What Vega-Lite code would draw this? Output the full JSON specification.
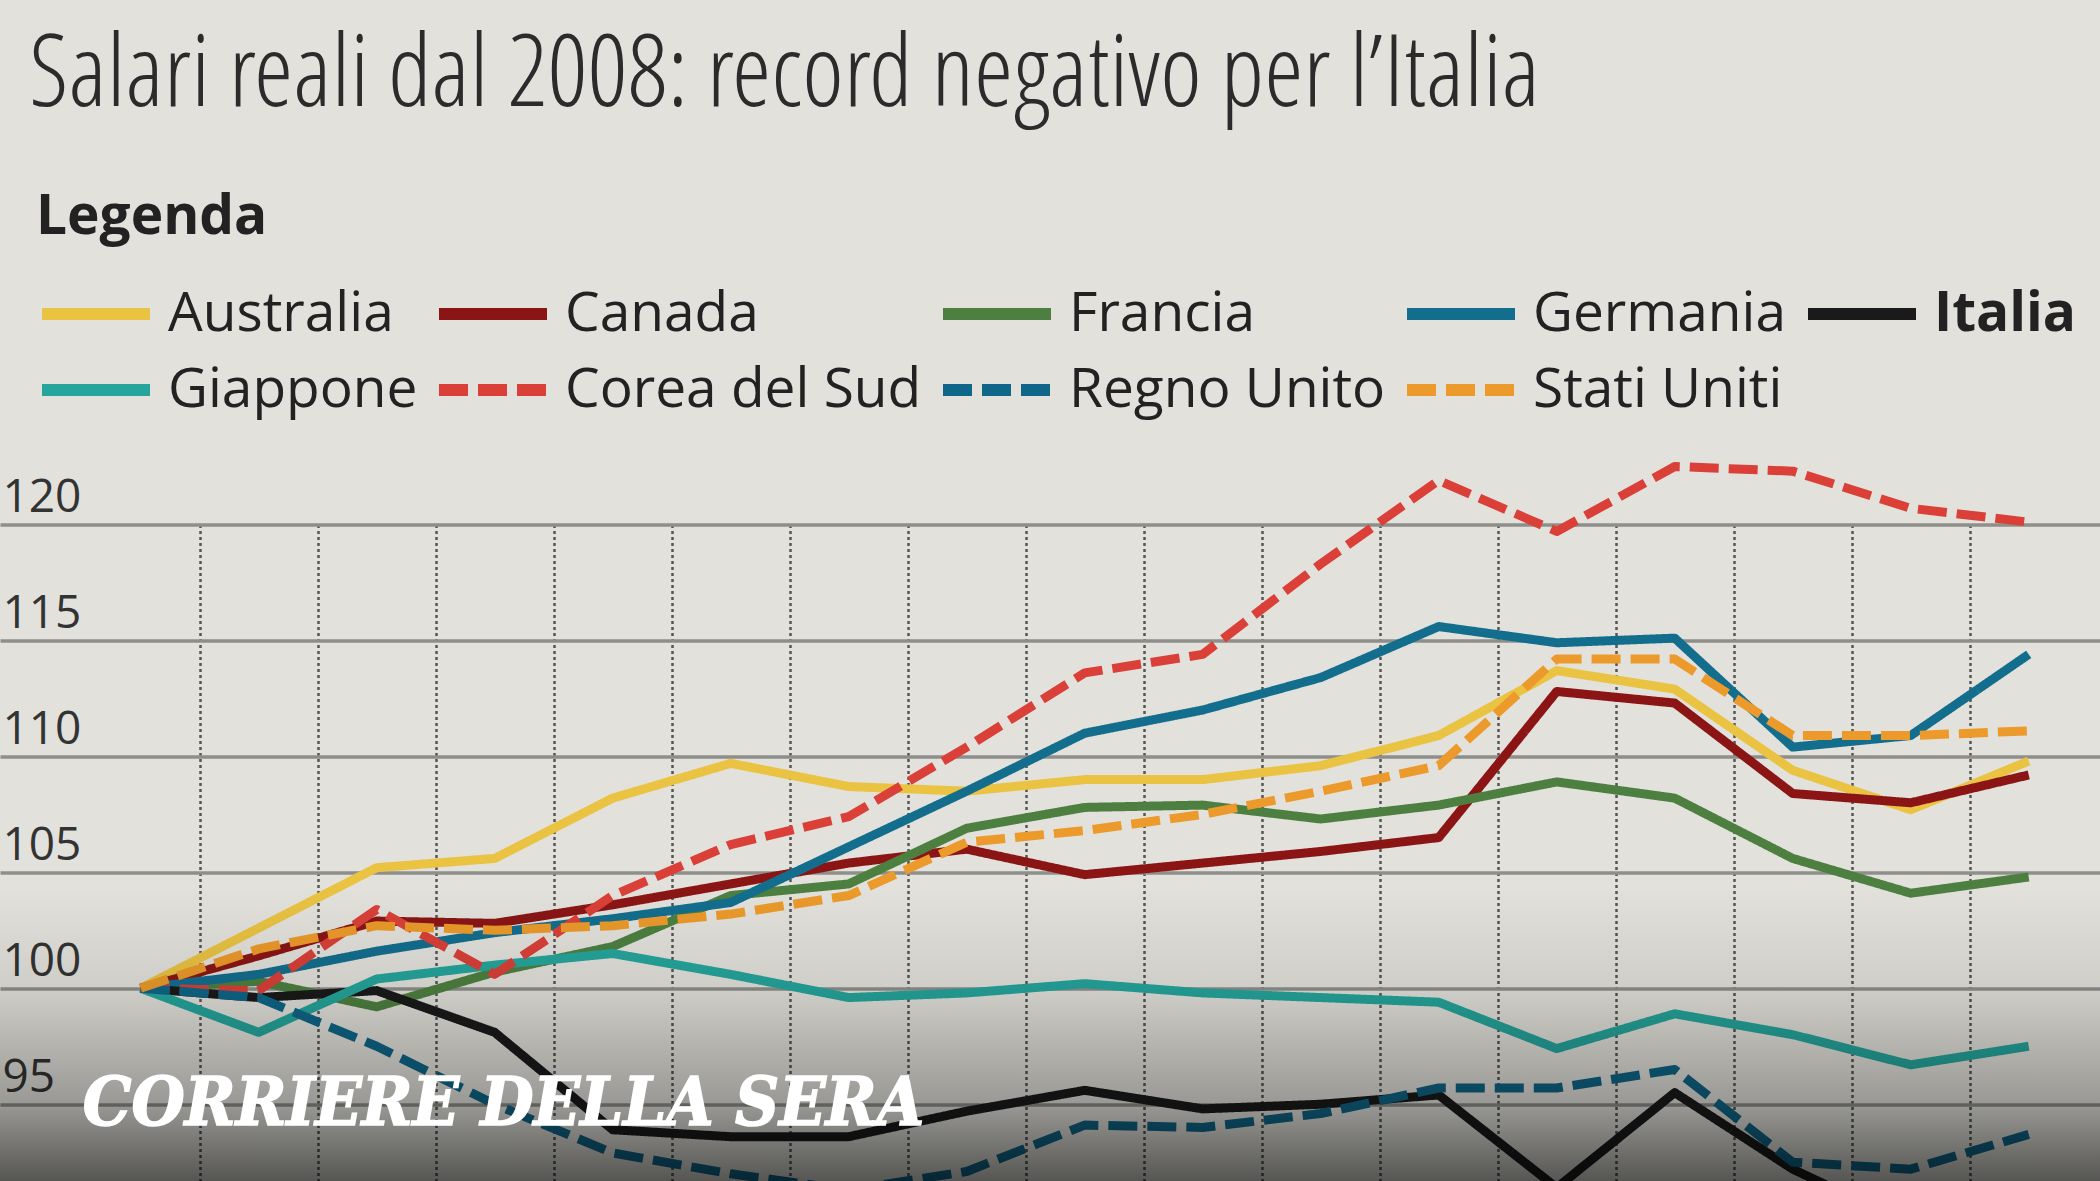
{
  "$schema": "https://vega.github.io/schema/vega-lite/v6.json",
  "autosize": {"type": "none"},
  "width": 2100,
  "height": 656.5,
  "padding": {"left": 0, "top": 524.5, "right": 0, "bottom": 0},
  "background": "#e2e1db",
  "title": {
    "text": "Salari reali dal 2008: record negativo per l’Italia",
    "anchor": "start",
    "frame": "group",
    "dx": 29,
    "offset": 64
  },
  "layer": [
    {
      "data": {
        "values": [
          {"Paese": "Australia", "Anno": 2008, "Valore": 100},
          {"Paese": "Australia", "Anno": 2009, "Valore": 102.6},
          {"Paese": "Australia", "Anno": 2010, "Valore": 105.2},
          {"Paese": "Australia", "Anno": 2011, "Valore": 105.6},
          {"Paese": "Australia", "Anno": 2012, "Valore": 108.2},
          {"Paese": "Australia", "Anno": 2013, "Valore": 109.7},
          {"Paese": "Australia", "Anno": 2014, "Valore": 108.7},
          {"Paese": "Australia", "Anno": 2015, "Valore": 108.5},
          {"Paese": "Australia", "Anno": 2016, "Valore": 109.0},
          {"Paese": "Australia", "Anno": 2017, "Valore": 109.0},
          {"Paese": "Australia", "Anno": 2018, "Valore": 109.6},
          {"Paese": "Australia", "Anno": 2019, "Valore": 110.9},
          {"Paese": "Australia", "Anno": 2020, "Valore": 113.7},
          {"Paese": "Australia", "Anno": 2021, "Valore": 112.9},
          {"Paese": "Australia", "Anno": 2022, "Valore": 109.4},
          {"Paese": "Australia", "Anno": 2023, "Valore": 107.7},
          {"Paese": "Australia", "Anno": 2024, "Valore": 109.8},
          {"Paese": "Canada", "Anno": 2008, "Valore": 100},
          {"Paese": "Canada", "Anno": 2009, "Valore": 101.4},
          {"Paese": "Canada", "Anno": 2010, "Valore": 102.9},
          {"Paese": "Canada", "Anno": 2011, "Valore": 102.8},
          {"Paese": "Canada", "Anno": 2012, "Valore": 103.6},
          {"Paese": "Canada", "Anno": 2013, "Valore": 104.5},
          {"Paese": "Canada", "Anno": 2014, "Valore": 105.4},
          {"Paese": "Canada", "Anno": 2015, "Valore": 106.0},
          {"Paese": "Canada", "Anno": 2016, "Valore": 104.9},
          {"Paese": "Canada", "Anno": 2017, "Valore": 105.4},
          {"Paese": "Canada", "Anno": 2018, "Valore": 105.9},
          {"Paese": "Canada", "Anno": 2019, "Valore": 106.5},
          {"Paese": "Canada", "Anno": 2020, "Valore": 112.8},
          {"Paese": "Canada", "Anno": 2021, "Valore": 112.3},
          {"Paese": "Canada", "Anno": 2022, "Valore": 108.4},
          {"Paese": "Canada", "Anno": 2023, "Valore": 108.0},
          {"Paese": "Canada", "Anno": 2024, "Valore": 109.2},
          {"Paese": "Francia", "Anno": 2008, "Valore": 100},
          {"Paese": "Francia", "Anno": 2009, "Valore": 100.3},
          {"Paese": "Francia", "Anno": 2010, "Valore": 99.2},
          {"Paese": "Francia", "Anno": 2011, "Valore": 100.7},
          {"Paese": "Francia", "Anno": 2012, "Valore": 101.8},
          {"Paese": "Francia", "Anno": 2013, "Valore": 104.0},
          {"Paese": "Francia", "Anno": 2014, "Valore": 104.5},
          {"Paese": "Francia", "Anno": 2015, "Valore": 106.9},
          {"Paese": "Francia", "Anno": 2016, "Valore": 107.8},
          {"Paese": "Francia", "Anno": 2017, "Valore": 107.9},
          {"Paese": "Francia", "Anno": 2018, "Valore": 107.3},
          {"Paese": "Francia", "Anno": 2019, "Valore": 107.9},
          {"Paese": "Francia", "Anno": 2020, "Valore": 108.9},
          {"Paese": "Francia", "Anno": 2021, "Valore": 108.2},
          {"Paese": "Francia", "Anno": 2022, "Valore": 105.6},
          {"Paese": "Francia", "Anno": 2023, "Valore": 104.1},
          {"Paese": "Francia", "Anno": 2024, "Valore": 104.8},
          {"Paese": "Germania", "Anno": 2008, "Valore": 100},
          {"Paese": "Germania", "Anno": 2009, "Valore": 100.6},
          {"Paese": "Germania", "Anno": 2010, "Valore": 101.6},
          {"Paese": "Germania", "Anno": 2011, "Valore": 102.4},
          {"Paese": "Germania", "Anno": 2012, "Valore": 103.0},
          {"Paese": "Germania", "Anno": 2013, "Valore": 103.7},
          {"Paese": "Germania", "Anno": 2014, "Valore": 106.1},
          {"Paese": "Germania", "Anno": 2015, "Valore": 108.5},
          {"Paese": "Germania", "Anno": 2016, "Valore": 111.0},
          {"Paese": "Germania", "Anno": 2017, "Valore": 112.0},
          {"Paese": "Germania", "Anno": 2018, "Valore": 113.4},
          {"Paese": "Germania", "Anno": 2019, "Valore": 115.6},
          {"Paese": "Germania", "Anno": 2020, "Valore": 114.9},
          {"Paese": "Germania", "Anno": 2021, "Valore": 115.1},
          {"Paese": "Germania", "Anno": 2022, "Valore": 110.4},
          {"Paese": "Germania", "Anno": 2023, "Valore": 110.9},
          {"Paese": "Germania", "Anno": 2024, "Valore": 114.4},
          {"Paese": "Italia", "Anno": 2008, "Valore": 100},
          {"Paese": "Italia", "Anno": 2009, "Valore": 99.6},
          {"Paese": "Italia", "Anno": 2010, "Valore": 99.9},
          {"Paese": "Italia", "Anno": 2011, "Valore": 98.1},
          {"Paese": "Italia", "Anno": 2012, "Valore": 93.9},
          {"Paese": "Italia", "Anno": 2013, "Valore": 93.6},
          {"Paese": "Italia", "Anno": 2014, "Valore": 93.6},
          {"Paese": "Italia", "Anno": 2015, "Valore": 94.7},
          {"Paese": "Italia", "Anno": 2016, "Valore": 95.6},
          {"Paese": "Italia", "Anno": 2017, "Valore": 94.8},
          {"Paese": "Italia", "Anno": 2018, "Valore": 95.0},
          {"Paese": "Italia", "Anno": 2019, "Valore": 95.4},
          {"Paese": "Italia", "Anno": 2020, "Valore": 91.4},
          {"Paese": "Italia", "Anno": 2021, "Valore": 95.5},
          {"Paese": "Italia", "Anno": 2022, "Valore": 92.2},
          {"Paese": "Italia", "Anno": 2023, "Valore": 89.8},
          {"Paese": "Italia", "Anno": 2024, "Valore": 91.3},
          {"Paese": "Giappone", "Anno": 2008, "Valore": 100},
          {"Paese": "Giappone", "Anno": 2009, "Valore": 98.1},
          {"Paese": "Giappone", "Anno": 2010, "Valore": 100.4},
          {"Paese": "Giappone", "Anno": 2011, "Valore": 101.0},
          {"Paese": "Giappone", "Anno": 2012, "Valore": 101.5},
          {"Paese": "Giappone", "Anno": 2013, "Valore": 100.6},
          {"Paese": "Giappone", "Anno": 2014, "Valore": 99.6},
          {"Paese": "Giappone", "Anno": 2015, "Valore": 99.8},
          {"Paese": "Giappone", "Anno": 2016, "Valore": 100.2},
          {"Paese": "Giappone", "Anno": 2017, "Valore": 99.8},
          {"Paese": "Giappone", "Anno": 2018, "Valore": 99.6},
          {"Paese": "Giappone", "Anno": 2019, "Valore": 99.4},
          {"Paese": "Giappone", "Anno": 2020, "Valore": 97.4},
          {"Paese": "Giappone", "Anno": 2021, "Valore": 98.9},
          {"Paese": "Giappone", "Anno": 2022, "Valore": 98.0},
          {"Paese": "Giappone", "Anno": 2023, "Valore": 96.7},
          {"Paese": "Giappone", "Anno": 2024, "Valore": 97.5},
          {"Paese": "Corea del Sud", "Anno": 2008, "Valore": 100},
          {"Paese": "Corea del Sud", "Anno": 2009, "Valore": 99.9},
          {"Paese": "Corea del Sud", "Anno": 2010, "Valore": 103.4},
          {"Paese": "Corea del Sud", "Anno": 2011, "Valore": 100.6},
          {"Paese": "Corea del Sud", "Anno": 2012, "Valore": 104.0},
          {"Paese": "Corea del Sud", "Anno": 2013, "Valore": 106.2},
          {"Paese": "Corea del Sud", "Anno": 2014, "Valore": 107.4},
          {"Paese": "Corea del Sud", "Anno": 2015, "Valore": 110.4},
          {"Paese": "Corea del Sud", "Anno": 2016, "Valore": 113.6},
          {"Paese": "Corea del Sud", "Anno": 2017, "Valore": 114.4},
          {"Paese": "Corea del Sud", "Anno": 2018, "Valore": 118.3},
          {"Paese": "Corea del Sud", "Anno": 2019, "Valore": 121.9},
          {"Paese": "Corea del Sud", "Anno": 2020, "Valore": 119.7},
          {"Paese": "Corea del Sud", "Anno": 2021, "Valore": 122.5},
          {"Paese": "Corea del Sud", "Anno": 2022, "Valore": 122.3},
          {"Paese": "Corea del Sud", "Anno": 2023, "Valore": 120.7},
          {"Paese": "Corea del Sud", "Anno": 2024, "Valore": 120.1},
          {"Paese": "Regno Unito", "Anno": 2008, "Valore": 100},
          {"Paese": "Regno Unito", "Anno": 2009, "Valore": 99.6},
          {"Paese": "Regno Unito", "Anno": 2010, "Valore": 97.5},
          {"Paese": "Regno Unito", "Anno": 2011, "Valore": 95.0},
          {"Paese": "Regno Unito", "Anno": 2012, "Valore": 92.9},
          {"Paese": "Regno Unito", "Anno": 2013, "Valore": 92.0},
          {"Paese": "Regno Unito", "Anno": 2014, "Valore": 91.3},
          {"Paese": "Regno Unito", "Anno": 2015, "Valore": 92.1},
          {"Paese": "Regno Unito", "Anno": 2016, "Valore": 94.1},
          {"Paese": "Regno Unito", "Anno": 2017, "Valore": 94.0},
          {"Paese": "Regno Unito", "Anno": 2018, "Valore": 94.6},
          {"Paese": "Regno Unito", "Anno": 2019, "Valore": 95.7},
          {"Paese": "Regno Unito", "Anno": 2020, "Valore": 95.7},
          {"Paese": "Regno Unito", "Anno": 2021, "Valore": 96.5},
          {"Paese": "Regno Unito", "Anno": 2022, "Valore": 92.5},
          {"Paese": "Regno Unito", "Anno": 2023, "Valore": 92.2},
          {"Paese": "Regno Unito", "Anno": 2024, "Valore": 93.7},
          {"Paese": "Stati Uniti", "Anno": 2008, "Valore": 100},
          {"Paese": "Stati Uniti", "Anno": 2009, "Valore": 101.7},
          {"Paese": "Stati Uniti", "Anno": 2010, "Valore": 102.7},
          {"Paese": "Stati Uniti", "Anno": 2011, "Valore": 102.5},
          {"Paese": "Stati Uniti", "Anno": 2012, "Valore": 102.7},
          {"Paese": "Stati Uniti", "Anno": 2013, "Valore": 103.2},
          {"Paese": "Stati Uniti", "Anno": 2014, "Valore": 104.0},
          {"Paese": "Stati Uniti", "Anno": 2015, "Valore": 106.3},
          {"Paese": "Stati Uniti", "Anno": 2016, "Valore": 106.8},
          {"Paese": "Stati Uniti", "Anno": 2017, "Valore": 107.5},
          {"Paese": "Stati Uniti", "Anno": 2018, "Valore": 108.5},
          {"Paese": "Stati Uniti", "Anno": 2019, "Valore": 109.6},
          {"Paese": "Stati Uniti", "Anno": 2020, "Valore": 114.2},
          {"Paese": "Stati Uniti", "Anno": 2021, "Valore": 114.2},
          {"Paese": "Stati Uniti", "Anno": 2022, "Valore": 110.9},
          {"Paese": "Stati Uniti", "Anno": 2023, "Valore": 110.9},
          {"Paese": "Stati Uniti", "Anno": 2024, "Valore": 111.1}
        ]
      },
      "mark": {"type": "line", "strokeWidth": 9, "strokeJoin": "round"},
      "encoding": {
        "x": {
          "field": "Anno",
          "type": "quantitative",
          "scale": {"domain": [2006.808, 2024.604], "nice": false, "zero": false},
          "axis": {
            "values": [2008.5, 2009.5, 2010.5, 2011.5, 2012.5, 2013.5, 2014.5, 2015.5, 2016.5, 2017.5, 2018.5, 2019.5, 2020.5, 2021.5, 2022.5, 2023.5],
            "grid": true,
            "gridColor": "#555555",
            "gridDash": [3, 3],
            "gridWidth": 2.5,
            "labels": false,
            "ticks": false,
            "domain": false,
            "title": null
          }
        },
        "y": {
          "field": "Valore",
          "type": "quantitative",
          "scale": {"domain": [91.69, 120], "nice": false, "zero": false},
          "axis": {
            "values": [90, 95, 100, 105, 110, 115, 120],
            "grid": true,
            "gridColor": "#8e8e8b",
            "gridWidth": 3.5,
            "ticks": false,
            "tickSize": 0,
            "domain": false,
            "title": null,
            "labelAlign": "left",
            "labelBaseline": "alphabetic",
            "labelPadding": -2,
            "labelOffset": -13,
            "labelFont": "Open Sans",
            "labelFontSize": 46,
            "labelColor": "#333333",
            "labelFlush": false,
            "labelOverlap": false,
            "labelBound": false
          }
        },
        "color": {
          "field": "Paese",
          "type": "nominal",
          "title": "Legenda",
          "scale": {
            "domain": ["Australia", "Canada", "Francia", "Germania", "Italia", "Giappone", "Corea del Sud", "Regno Unito", "Stati Uniti"],
            "range": ["#eac342", "#8b1515", "#4d8040", "#136e8e", "#1a1a1a", "#25a59c", "#da4038", "#0f6688", "#ec9a2b"]
          },
          "legend": {
            "encode": {"labels": {"update": {"fontWeight": {"signal": "datum.label === 'Italia' ? 'bold' : 'normal'"}}}}
          }
        },
        "strokeDash": {
          "field": "Paese",
          "type": "nominal",
          "title": "Legenda",
          "scale": {
            "domain": ["Australia", "Canada", "Francia", "Germania", "Italia", "Giappone", "Corea del Sud", "Regno Unito", "Stati Uniti"],
            "range": [[1, 0], [1, 0], [1, 0], [1, 0], [1, 0], [1, 0], [29, 10], [29, 10], [29, 10]]
          },
          "legend": {
            "encode": {"labels": {"update": {"fontWeight": {"signal": "datum.label === 'Italia' ? 'bold' : 'normal'"}}}}
          }
        }
      }
    },
    {
      "data": {"values": [{}]},
      "mark": {
        "type": "rect",
        "fill": {
          "gradient": "linear",
          "x1": 0, "y1": 0, "x2": 0, "y2": 1,
          "stops": [
            {"offset": 0, "color": "rgba(0,0,0,0)"},
            {"offset": 0.35, "color": "rgba(0,0,0,0.085)"},
            {"offset": 0.74, "color": "rgba(0,0,0,0.32)"},
            {"offset": 1, "color": "rgba(0,0,0,0.62)"}
          ]
        }
      },
      "encoding": {
        "x": {"datum": 2006.808, "type": "quantitative"},
        "x2": {"datum": 2024.604},
        "y": {"datum": 104.5, "type": "quantitative"},
        "y2": {"datum": 91.69}
      }
    },
    {
      "data": {"values": [{}]},
      "mark": {
        "type": "text",
        "text": "CORRIERE DELLA SERA",
        "font": "DejaVu Serif Condensed, Liberation Serif",
        "fontStyle": "italic",
        "fontWeight": "bold",
        "fontSize": 68,
        "fill": "#ffffff",
        "stroke": "#ffffff",
        "strokeWidth": 1.5,
        "align": "left",
        "baseline": "alphabetic"
      },
      "encoding": {
        "x": {"datum": 2007.51, "type": "quantitative"},
        "y": {"datum": 94.11, "type": "quantitative"}
      }
    }
  ],
  "config": {
    "view": {"stroke": null},
    "title": {
      "font": "Open Sans Condensed Light, Open Sans Condensed",
      "fontSize": 100,
      "fontWeight": 300,
      "color": "#2b2b2b"
    },
    "legend": {
      "orient": "none",
      "direction": "horizontal",
      "legendX": 36,
      "legendY": -333.5,
      "columns": 5,
      "columnPadding": 15,
      "rowPadding": 0,
      "clipHeight": 76,
      "padding": 0,
      "symbolType": "stroke",
      "symbolSize": 11664,
      "symbolStrokeWidth": 12,
      "labelFont": "Open Sans",
      "labelFontSize": 55,
      "labelColor": "#222222",
      "labelOffset": 12,
      "labelLimit": 0,
      "titleFont": "Open Sans",
      "titleFontSize": 55,
      "titleFontWeight": "bold",
      "titleColor": "#222222",
      "titleLimit": 0,
      "titlePadding": 30
    }
  }
}
